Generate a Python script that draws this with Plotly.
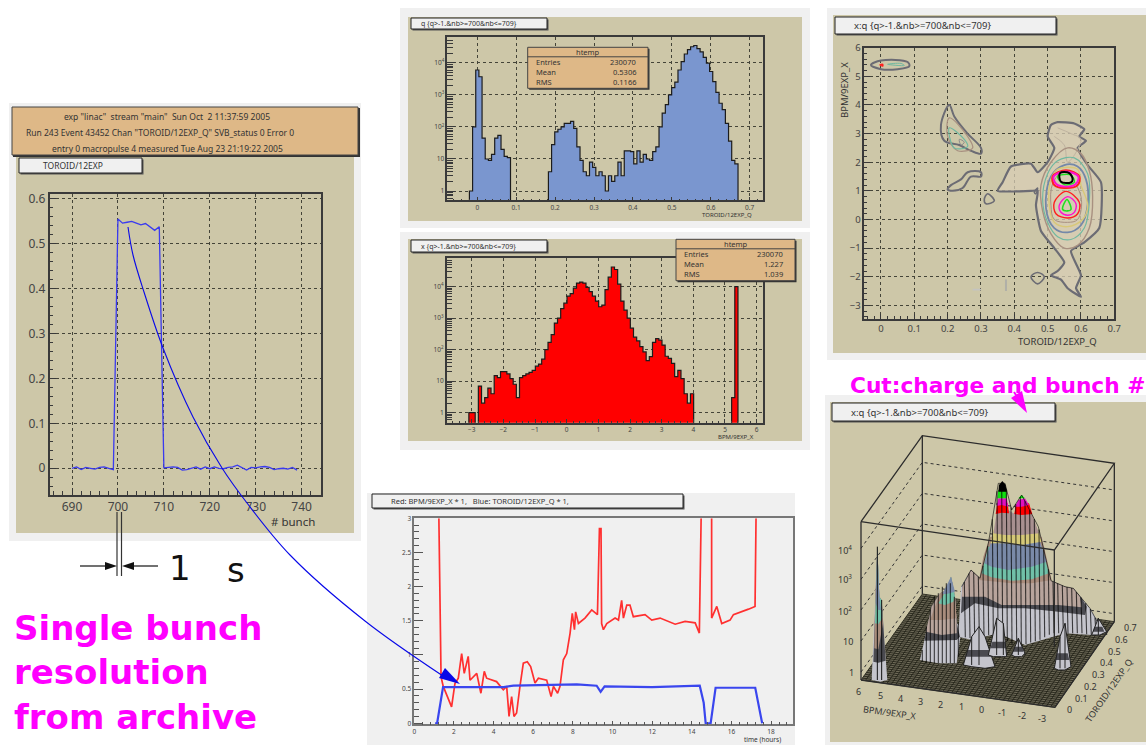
import numpy as np
import plotly.graph_objects as go

W, H = 1146, 745
TAN = "#cdc7a8"; LIGHT = "#f0f0f0"; ORANGE = "#deb887"; DARK = "#3a3a3a"; GRID = "#444438"
FONT = "Noto Sans"

# ---------- data: single-shot trace ----------
bunch = list(range(690, 740))
charge = [0,.003,-.003,.002,0,-.002,.002,.003,0,-.003,.555,.546,.548,.55,.546,.542,.545,.537,.53,.538,
          .001,.002,.003,.002,-.004,-.003,0,.003,-.002,.003,-.001,.003,0,-.001,.002,.003,.007,.002,-.004,.002,
          .001,.003,.004,.002,-.003,-.001,0,-.002,.002,-.004]

# ---------- data: charge histogram (100 bins) ----------
q_range = (-0.077, 0.735)
q_counts = [0]*7 + [1,100,6000,3700,45,10,9,14,45,55,20,12,11] + [0]*12 + [
    4,28,70,85,100,130,130,150,90,24,9,4,3,8,5.5,3,4,3,1,3,2,3,8,3,18,18,17,7,18,8,14,10,9,17,24,
    100,270,500,1000,1700,2500,6000,11000,19000,26000,32000,35000,28000,22000,15000,9800,5400,2600,1200,550,350,130,36,9,7] + [0]*8

# ---------- data: position histogram (100 bins) ----------
x_range = (-3.79, 6.21)
x_counts = [0]*7 + [1,1,0,7,2,3,6,4,15,13,20,20,17,12,8,3,13,15,17,19,22,30,35,50,100,170,300,700,1000,2000,
    3000,5000,6000,9000,13000,14000,13000,9500,7000,5000,3500,2300,2600,8000,20000,42000,35000,12000,3500,1800,1000,
    480,250,190,125,85,45,60,170,225,200,140,62,53,37,14,22,12,4,2,4] + [0]*12 + [3,10000] + [0]*8

# ---------- data: strip chart ----------
red_t1 = [1.24,1.3,1.35,1.46,1.72,1.88,2.05,2.22,2.39,2.52,2.64,2.72,2.81,3.15,3.36,3.53,3.65,4.15,4.49,4.66,4.78,4.91,5.03,5.16,5.33,5.5,5.7,5.87,6.09,6.26,6.68,6.9,7.02,7.23,7.35,7.52,7.69,7.86,7.97,8.08,8.14,8.28,8.61,8.95,9.24,9.34,9.42,9.45,9.54,9.71,10.13,10.3,10.46,10.55,10.72,10.88,11.05,11.64,11.98,12.4,13.16,13.66,14.17,14.38,14.47]
red_v1 = [3,1.95,.68,.54,.34,.24,.58,.66,1.02,.73,.88,.98,.63,.73,.44,.76,.66,.61,.49,.54,.1,.39,.1,.15,.54,.88,.9,.83,.59,.66,.63,.39,.54,.44,.54,.93,1.02,1.32,1.61,1.37,1.63,1.46,1.54,1.66,1.59,2.85,2.85,1.46,1.37,1.46,1.54,1.51,1.8,1.54,1.73,1.73,1.56,1.59,1.51,1.54,1.45,1.49,1.47,1.32,3]
red_t2 = [15.0,15.0,15.26,15.51,15.93,16.1,16.86,17.19,17.24]
red_v2 = [3,1.54,1.71,1.46,1.51,1.59,1.67,1.71,3]
blue_t = [1.05,1.15,1.45,4.5,5.0,7.5,8.2,9.2,9.4,9.6,12,14.4,14.6,14.7,14.95,15.2,17.2,17.55]
blue_v = [0,0,.53,.53,.55,.56,.57,.55,.46,.54,.53,.55,.3,0,0,.52,.52,0]

# ---------- data: contours (x = charge, y = position) ----------
GREY_D, BRN, TEAL, BLUE, YEL, RED, MAG, GRN = "#6c6c74", "#a89080", "#70b8a0", "#7488a8", "#d8c878", "#ff2020", "#ff10d0", "#20e020"
contours = [
 ("#d9d0b8", 1.6, [.51,.53,.58,.61,.595,.615,.59,.62,.66,.655,.61,.57,.60,.585,.60,.56,.54,.51,.53,.55,.52,.48,.465,.47,.45,.35,.365,.39,.45,.47,.5,.52,.50,.51],
                  [3.3,3.4,3.35,3.15,2.9,2.75,2.5,1.9,1.3,-.3,-.8,-1.1,-1.95,-2.4,-2.7,-2.4,-2.1,-1.95,-1.8,-1.5,-1.0,-.4,.5,1.0,1.0,1.0,1.3,1.85,1.95,1.65,2.0,2.5,2.9,3.3]),
 ("#bfb3a0", 1, [.53,.57,.60,.56,.55,.52], [3.2,3.0,2.8,2.0,2.6,2.9]),
 (BRN, 1.4, [.51,.56,.60,.625,.635,.625,.59,.55,.51,.485,.48,.51], [2.0,2.5,2.3,1.7,.8,-.3,-.9,-1.0,-.5,.3,1.2,2.0]),
 (TEAL, 1.2, [.50,.53,.58,.62,.625,.61,.57,.53,.50,.485,.50], [1.6,2.05,2.15,1.6,.6,-.3,-.7,-.6,-.1,.7,1.6]),
 (BLUE, 1.8, [.51,.55,.59,.615,.62,.60,.56,.52,.495,.51], [1.5,1.9,1.85,1.4,.5,-.2,-.45,-.3,.4,1.5]),
 (YEL, 1.4, [.51,.53,.59,.60,.62,.605,.56,.52,.505,.51], [1.4,1.75,1.75,1.2,.5,0,-.25,-.1,.5,1.4]),
 (BRN, 1, [.515,.55,.60,.59,.56,.52,.51,.515], [1.25,1.7,.8,0,-.1,0,.5,1.25]),
 (RED, 1.4, [.52,.555,.595,.59,.56,.525,.52], [.6,.98,.6,.2,.05,.2,.6]),
 (MAG, 1.4, [.535,.56,.585,.58,.56,.54,.535], [.5,.8,.55,.25,.15,.25,.5]),
 (GRN, 1.6, [.545,.558,.57,.56,.545], [.35,.7,.35,.3,.35]),
 (RED, 2, [.515,.555,.595,.59,.55,.52,.515], [1.5,1.72,1.5,1.2,1.1,1.2,1.5]),
 (MAG, 2, [.518,.555,.592,.585,.55,.525,.518], [1.5,1.68,1.5,1.25,1.15,1.25,1.5]),
 (GRN, 1.4, [.53,.57,.58,.55,.53], [1.5,1.55,1.3,1.22,1.5]),
 ("#000000", 2, [.537,.565,.575,.57,.54,.537], [1.62,1.62,1.4,1.3,1.32,1.62]),
 (GREY_D, 2, [.205,.22,.26,.30,.30,.27,.235,.19,.18,.205], [4.0,3.6,3.0,2.5,2.3,2.4,2.6,2.75,3.3,4.0]),
 (BRN, 1.2, [.205,.26,.275,.23,.20,.205], [3.55,2.9,2.5,2.4,2.9,3.55]),
 (TEAL, 1.2, [.205,.25,.26,.22,.205], [3.2,2.8,2.55,2.5,3.2]),
 ("#8c8c8c", 1, [.235,.25,.24,.235], [2.8,2.7,2.6,2.8]),
 (GREY_D, 2, [.20,.21,.24,.26,.30,.30,.27,.245,.215,.20], [1.05,1.2,1.4,1.65,1.65,1.5,1.5,1.1,1.0,1.05]),
 (GREY_D, 2, [-.03,0,.08,.085,.05,0,-.03], [5.4,5.55,5.5,5.35,5.25,5.25,5.4]),
 (TEAL, 1, [.02,.06,.07,.02], [5.42,5.45,5.38,5.42]),
 (RED, 1.5, [-.003,.005,.005,-.003], [5.4,5.42,5.36,5.4]),
 (GREY_D, 1.6, [.31,.32,.34,.315,.31], [.7,.9,.65,.55,.7]),
 (GREY_D, 1.6, [.45,.47,.49,.47,.45], [-2.0,-1.85,-2.0,-2.25,-2.0]),
 ("#c4c4c0", 1.6, [.275,.30,.275], [-2.45,-2.45,-2.45]),
 ("#b0b0a8", 2, [.375,.375], [-2.1,-2.5]),
 (GREY_D, 1.6, [.46,.47,.465,.46], [.95,1.1,.9,.95]),
]

# ---------- data: 3-D view, picture coordinates of the drawn surface ----------
main_levels = [
 ("#c4c4cc", [400,408,438,465,480,660,678,720,745,770,795,835,800,720,600,520,440], [800,650,600,625,560,560,632,650,655,685,715,780,795,790,825,790,810]),
 ("#4a4a50", [408,412,438,465,480,660,678,720,745,770,785,780,700,600,520,450], [730,650,600,625,560,560,632,650,655,685,710,735,725,715,715,700]),
 ("#b8a49c", [410,412,438,465,480,660,678,720,745,765,770,700,600,530,480], [680,650,600,625,560,560,632,650,655,680,712,705,705,705,680]),
 ("#a88c7c", [462,475,495,650,680,620,560,500], [630,560,500,500,630,640,640,635]),
 ("#70c0a8", [470,490,650,672,620,560,500], [610,530,530,610,628,632,622]),
 ("#7a8aa8", [478,497,645,665,620,550,500], [580,520,515,575,590,600,590]),
 ("#d4c878", [497,505,630,650,590,540], [520,480,460,515,525,520]),
 ("#a89090", [505,515,550,565,620,642,590,540], [490,430,420,430,430,490,495,495]),
 ("#ff0000", [512,517,548,552,530], [432,400,400,430,428]),
 ("#ff0000", [568,572,612,622,590], [432,405,400,432,435]),
 ("#e010c0", [515,520,545,550,530], [408,385,385,410,405]),
 ("#e010c0", [570,580,600,612,590], [410,390,385,405,410]),
 ("#10e010", [517,520,545,545], [385,360,360,385]),
 ("#10e010", [580,590,600], [385,375,385]),
 ("#000000", [520,522,532,542,545], [365,345,333,345,365]),
]
left_levels = [
 ("#c4c4cc", [285,300,320,345,365,378,390,395,410,395,340], [870,800,710,670,660,620,680,760,770,880,880]),
 ("#4a4a50", [298,320,345,365,378,390,395,405,395,340], [812,710,670,660,620,680,760,800,810,812]),
 ("#b8a49c", [303,320,345,365,378,390,395,395,350], [785,710,670,660,620,680,760,790,795]),
 ("#a88c7c", [315,345,365,378,390,395,350], [750,670,660,620,680,745,750]),
 ("#70c0a8", [340,365,378,390,385,360], [700,660,620,680,695,705]),
 ("#7a8aa8", [352,378,390,365], [672,620,665,672]),
]
spike_levels = [
 ("#c4c4cc", [140,150,157,163,170,176,187,165], [930,700,530,680,690,780,930,935]),
 ("#4a4a50", [145,150,157,163,170,176,182,160], [875,700,530,680,690,780,872,878]),
 ("#a88c7c", [148,150,157,163,170,174,160], [835,700,530,680,690,760,838]),
 ("#70c0a8", [150,157,163,170,172,160], [760,530,680,690,745,762]),
 ("#7a8aa8", [152,157,163,168,160], [700,530,680,720,720]),
]
small_hills = [
 ([415,440,462,480,510,480,440], [885,800,770,800,890,895,890]),
 ([490,515,535,545,530,505], [855,745,760,860,860,860]),
 ([560,580,600,590,570], [855,805,850,860,860]),
 ([688,705,720,738,720,700], [895,800,760,890,900,900]),
 ([800,820,845,825], [795,745,785,795]),
]
small_bands = [
 ([428,494,502,420], [840,840,860,860]),
 ([502,540,543,496], [815,815,835,835]),
 ([568,592,595,564], [830,830,845,845]),
 ([695,728,733,691], [850,850,870,870]),
 ([808,832,838,804], [770,770,785,785]),
]
ridge_x = [410,438,465,490,520,540,560,590,640,678,720,745,770,795,830]
ridge_top = [650,600,625,520,340,340,420,375,470,632,650,655,685,715,780]
ridge_base = [800,805,800,795,790,810,825,825,810,790,790,790,790,795,790]
mesh_x = [418,432,446,460,474,488,502,516,530,544,558,572,586,600,614,628,642,656,670,684,698,712,726,740,754,768,782,796,810]
left_mesh_x = [292,304,316,328,340,352,364,376,388,400]
left_top = [840,770,720,680,670,650,640,640,680,760]
left_base = [875,880,880,880,880,880,880,880,880,860]

fig = go.Figure()
shapes, annots = [], []

def px(x): return x / W
def py(y): return 1 - y / H

def rect(x0, y0, x1, y1, fill, line=None, lw=0, layer="below"):
    shapes.append(dict(type="rect", xref="paper", yref="paper", x0=px(x0), x1=px(x1), y0=py(y0), y1=py(y1),
                       fillcolor=fill, line=dict(color=line or fill, width=lw), layer=layer))

def label(x, y, t, size=8, color="#333333", anchor="center", angle=0, fam=FONT, v="middle"):
    annots.append(dict(xref="paper", yref="paper", x=px(x), y=py(y), text=t, showarrow=False, xanchor=anchor, yanchor=v,
                       font=dict(size=size, color=color, family=fam), textangle=angle))

def titlebox(x0, y0, x1, y1, t, size=8, tx=None):
    rect(x0 + 1.5, y0 + 1.5, x1 + 1.5, y1 + 1.5, "#555555")
    rect(x0, y0, x1, y1, LIGHT, "#222222", 1)
    label(tx if tx else x0 + 8, (y0 + y1) / 2, t, size=size, anchor="left")

def setup(n, l, t, r, b, xr, yr, xopts=None, yopts=None, font=12):
    common = dict(showline=True, mirror=True, linecolor=DARK, linewidth=1.5, showgrid=True,
                  gridcolor=GRID, griddash="dot", gridwidth=1, zeroline=False, ticks="inside", tickcolor=DARK,
                  tickfont=dict(size=font, color="#444444", family=FONT), ticklen=7)
    xa = dict(common, domain=[px(l), px(r)], range=list(xr), anchor=f"y{n}", **(xopts or {}))
    ya = dict(common, domain=[py(b), py(t)], range=list(yr), anchor=f"x{n}", **(yopts or {}))
    fig.update_layout(**{f"xaxis{n}": xa, f"yaxis{n}": ya})

def line(n, xs, ys, color, width=1.2, shape="linear", **kw):
    fig.add_trace(go.Scatter(x=xs, y=ys, mode="lines", xaxis=f"x{n}", yaxis=f"y{n}",
                             line=dict(color=color, width=width, shape=shape), hoverinfo="skip", **kw))

def poly(n, xs, ys, color, smooth=False):
    fig.add_trace(go.Scatter(x=list(xs) + [xs[0]], y=list(ys) + [ys[0]], mode="lines", fill="toself", fillcolor=color,
                             xaxis=f"x{n}", yaxis=f"y{n}", line=dict(width=0, color=color), hoverinfo="skip"))

# ---------- panel 1: single shot ----------
rect(9, 103, 361, 541, LIGHT)
rect(16, 157, 354, 533, TAN)
rect(13, 108, 360, 157, "#333333")
rect(12, 107, 358, 155, ORANGE, "#444444", 1)
label(167, 116.5, 'exp "linac"  stream "main"  Sun Oct  2 11:37:59 2005', 8.5)
label(160, 132.5, 'Run 243 Event 43452 Chan "TOROID/12EXP_Q" SVB_status 0 Error 0', 8.5)
label(167, 149, 'entry 0 macropulse 4 measured Tue Aug 23 21:19:22 2005', 8.5)
titlebox(19, 158, 142, 173, "TOROID/12EXP", 8.5, tx=41)
setup(1, 49.5, 193.5, 320.5, 495, (685.1, 744.1), (-0.0595, 0.612),
      dict(tickvals=[690,700,710,720,730,740], minor=dict(ticks="inside", ticklen=4, dtick=2, tickcolor=DARK, showgrid=False)),
      dict(tickvals=[0,.1,.2,.3,.4,.5,.6], ticktext=["0","0.1","0.2","0.3","0.4","0.5","0.6"],
           minor=dict(ticks="inside", ticklen=4, dtick=.02, tickcolor=DARK, showgrid=False)))
line(1, bunch, charge, "#3a3af0", 1.3)
label(293, 521, "# bunch", 11.5)

# ---------- panel 2: charge histogram ----------
logvals = [1, 10, 100, 1000, 10000]
logtext = ["1", "10", "10<sup>2</sup>", "10<sup>3</sup>", "10<sup>4</sup>"]
logminor = [m * 10**d for d in range(0, 5) for m in range(2, 10)] + [.6, .7, .8, .9]
def hist(n, rng, counts, fill):
    edges = np.linspace(rng[0], rng[1], len(counts) + 1)
    ys = [c if c > 0 else 0.1 for c in counts]
    fig.add_trace(go.Scatter(x=edges, y=ys + [ys[-1]], mode="lines", fill="tozeroy", fillcolor=fill, xaxis=f"x{n}", yaxis=f"y{n}",
                             line=dict(color="#1c1c1c", width=1.2, shape="hv"), hoverinfo="skip"))
def statbox(x0, y0, x1, y1, mean, rms):
    rect(x0 + 1.5, y0 + 1.5, x1 + 1.5, y1 + 1.5, "#333333", layer="above")
    rect(x0, y0, x1, y1, ORANGE, "#444444", 1, layer="above")
    shapes.append(dict(type="line", xref="paper", yref="paper", x0=px(x0), x1=px(x1), y0=py(y0 + 9.5), y1=py(y0 + 9.5),
                       line=dict(color="#444444", width=1), layer="above"))
    label((x0 + x1) / 2, y0 + 5, "htemp", 7.5)
    for i, (k, v) in enumerate([("Entries", "230070"), ("Mean", mean), ("RMS", rms)]):
        label(x0 + 6, y0 + 15 + i * 10, k, 7.5, anchor="left")
        label(x1 - 10, y0 + 15 + i * 10, v, 7.5, anchor="right")

rect(400, 8, 810, 228, LIGHT)
rect(408, 17, 802, 221, TAN)
titlebox(411, 18, 547, 29, "q {q&gt;-1.&amp;nb&gt;=700&amp;nb&lt;=709}", 7, tx=419)
setup(2, 447.3, 37.3, 763.3, 200.3, q_range, (-0.29, 4.80),
      dict(tickvals=[0,.1,.2,.3,.4,.5,.6,.7], ticktext=["0","0.1","0.2","0.3","0.4","0.5","0.6","0.7"], ticklen=4,
           minor=dict(ticks="inside", ticklen=2, dtick=.02, tickcolor=DARK, showgrid=False)),
      dict(type="log", tickvals=logvals, ticktext=logtext, ticklen=8,
           minor=dict(ticks="inside", ticklen=6, tickvals=logminor, tickcolor=DARK, showgrid=False)), font=6.5)
hist(2, q_range, q_counts, "#7a96cf")
statbox(527.7, 47.3, 648, 88.3, "0.5306", "0.1166")
label(727, 215, "TOROID/12EXP_Q", 6)

# ---------- panel 3: position histogram ----------
rect(400, 232, 810, 450, LIGHT)
rect(408, 239, 802, 441, TAN)
titlebox(411, 240, 547, 252, "x {q&gt;-1.&amp;nb&gt;=700&amp;nb&lt;=709}", 7, tx=419)
setup(3, 446.7, 258.3, 763.3, 422.7, x_range, (-0.317, 4.9),
      dict(tickvals=list(range(-3, 7)), ticklen=4, minor=dict(ticks="inside", ticklen=2, dtick=.2, tickcolor=DARK, showgrid=False)),
      dict(type="log", tickvals=logvals, ticktext=logtext, ticklen=8,
           minor=dict(ticks="inside", ticklen=6, tickvals=logminor, tickcolor=DARK, showgrid=False)), font=6.5)
hist(3, x_range, x_counts, "#ff0000")
statbox(676, 239.3, 795, 280.7, "1.227", "1.039")
label(736, 437, "BPM/9EXP_X", 6)

# ---------- panel 4: contour map ----------
rect(827, 8, 1146, 360, LIGHT)
rect(833, 15, 1146, 353, TAN)
titlebox(835, 17, 1056, 34, "x:q {q&gt;-1.&amp;nb&gt;=700&amp;nb&lt;=709}", 9.5, tx=852)
setup(4, 864.3, 47.7, 1114.3, 319, (-0.05, 0.7), (-3.476, 6),
      dict(tickvals=[0,.1,.2,.3,.4,.5,.6,.7], ticktext=["0","0.1","0.2","0.3","0.4","0.5","0.6","0.7"], ticklen=5,
           minor=dict(ticks="inside", ticklen=3, dtick=.02, tickcolor=DARK, showgrid=False)),
      dict(tickvals=list(range(-3, 7)), ticklen=6, minor=dict(ticks="inside", ticklen=3, dtick=.2, tickcolor=DARK, showgrid=False)), font=9.5)
for col, lw, cx, cy in contours[:1]:
    fig.add_trace(go.Scatter(x=cx, y=cy, mode="lines", fill="toself", fillcolor="rgba(216,206,182,.75)", xaxis="x4", yaxis="y4",
                             line=dict(color=GREY_D, width=2.2, shape="spline", smoothing=0.5), hoverinfo="skip"))
for col, lw, cx, cy in contours[1:]:
    line(4, cx, cy, col, lw, "spline")
label(1057, 342, "TOROID/12EXP_Q", 9.5)
label(844, 90, "BPM/9EXP_X", 9.5, angle=-90)

# ---------- panel 5: 3-D view ----------
rect(825, 395, 1146, 745, LIGHT)
rect(830, 402, 1146, 742, TAN)
titlebox(832, 403, 1055, 421, "x:q {q&gt;-1.&amp;nb&gt;=700&amp;nb&lt;=709}", 9.5, tx=849)
fig.update_layout(xaxis7=dict(domain=[px(825), 1], range=[0, 963], visible=False, anchor="y7"),
                  yaxis7=dict(domain=[py(745), py(370)], range=[1125, 0], visible=False, anchor="x7"))
FL, FR, BR, BL = (108, 930), (690, 1012), (868, 755), (292, 672)
poly(7, [FL[0], FR[0], BR[0], BL[0]], [FL[1], FR[1], BR[1], BL[1]], "#6e6a58")
for t in np.linspace(0, 1, 46):
    line(7, [FL[0]+(BL[0]-FL[0])*t, FR[0]+(BR[0]-FR[0])*t], [FL[1]+(BL[1]-FL[1])*t, FR[1]+(BR[1]-FR[1])*t], "#1e1e14", .8)
for t in np.linspace(0, 1, 46):
    line(7, [FL[0]+(FR[0]-FL[0])*t, BL[0]+(BR[0]-BL[0])*t], [FL[1]+(FR[1]-FL[1])*t, BL[1]+(BR[1]-BL[1])*t], "#1e1e14", .8)
for y in [277, 370, 462, 555, 648]:
    fig.add_trace(go.Scatter(x=[108, 292, 868], y=[y + 258, y, y + 83], mode="lines", xaxis="x7", yaxis="y7",
                             line=dict(color="#333333", width=1, dash="dot"), hoverinfo="skip"))
for c, xs, ys in main_levels:
    poly(7, xs, ys, c)
for mx in mesh_x:
    line(7, [mx, mx + 3], [np.interp(mx, ridge_x, ridge_top), np.interp(mx, ridge_x, ridge_base)], "rgba(0,0,0,.7)", 1.1)
line(7, ridge_x, ridge_top, "rgba(0,0,0,.6)", 1)
for c, xs, ys in left_levels:
    poly(7, xs, ys, c)
for mx, a, b in zip(left_mesh_x, left_top, left_base):
    line(7, [mx, mx], [a, b], "rgba(0,0,0,.7)", 1.1)
for c, xs, ys in spike_levels:
    poly(7, xs, ys, c)
line(7, [157, 157], [530, 930], "#111111", 1)
line(7, [170, 170], [690, 930], "#111111", 1)
for (xs, ys), (bx, by) in zip(small_hills, small_bands):
    poly(7, xs, ys, "#c4c4cc")
    poly(7, bx, by, "#4a4a50")
    line(7, xs + [xs[0]], ys + [ys[0]], "#222222", 1)
    line(7, [xs[1], xs[1]], [ys[1], ys[0]], "#222222", 1)
    line(7, [xs[2], xs[2]], [ys[2], ys[0]], "#222222", 1)
tl, tr, tbr, tbl = (108, 455), (688, 540), (868, 280), (292, 197)
line(7, [tl[0], tr[0], tbr[0], tbl[0], tl[0]], [tl[1], tr[1], tbr[1], tbl[1], tl[1]], "#2c2c2c", 1.3)
line(7, [tl[0], FL[0]], [tl[1], FL[1]], "#2c2c2c", 1.3)
line(7, [tr[0], tr[0]], [tr[1], 830], "#2c2c2c", 1.3)
line(7, [tbr[0], BR[0]], [tbr[1], BR[1]], "#2c2c2c", 1.3)
line(7, [tbl[0], BL[0]], [tbl[1], BL[1]], "#2c2c2c", 1.3)
line(7, [FL[0], FR[0], BR[0]], [FL[1], FR[1], BR[1]], "#2c2c2c", 1.3)
def z(x, y): return 825 + x / 3, 370 + y / 3
for t, a, b, ang in [("10<sup>4</sup>", 60, 540, 0), ("10<sup>3</sup>", 60, 628, 0), ("10<sup>2</sup>", 60, 722, 0), ("10", 68, 815, 0), ("1", 78, 908, 0),
                     ("6",100,965,0),("5",165,975,0),("4",225,985,0),("3",285,993,0),("2",347,1002,0),("1",410,1010,0),("0",468,1018,0),("-1",530,1027,0),("-2",592,1037,0),("-3",652,1045,0),
                     ("0",733,1018,0),("0.1",768,985,0),("0.2",797,948,0),("0.3",820,912,0),("0.4",845,878,0),("0.5",868,843,0),("0.6",890,808,0),("0.7",915,772,0),
                     ("BPM/9EXP_X",195,1028,8),("TOROID/12EXP_Q",850,960,-55)]:
    label(*z(a, b), t, 9, angle=ang)

# ---------- panel 6: strip chart ----------
rect(367, 493, 795, 745, LIGHT)
titlebox(372, 494, 683, 508, "Red: BPM/9EXP_X * 1,   Blue: TOROID/12EXP_Q * 1,", 7.5, tx=389)
setup(6, 414.3, 518.3, 792.7, 724.3, (0, 19.09), (-0.015, 3),
      dict(tickvals=list(range(0, 20, 2)), ticklen=4, showgrid=False, linecolor="#777777", tickcolor="#555555",
           minor=dict(ticks="inside", ticklen=3, dtick=.4, tickcolor="#555555", showgrid=False)),
      dict(tickvals=[0,.5,1,1.5,2,2.5,3], ticktext=["0","0.5","1","1.5","2","2.5","3"], ticklen=9, showgrid=False, linecolor="#777777", tickcolor="#555555",
           minor=dict(ticks="inside", ticklen=5, dtick=.1, tickcolor="#555555", showgrid=False)), font=6.5)
line(6, red_t1, red_v1, "#ff3030", 1.7)
line(6, red_t2, red_v2, "#ff3030", 1.7)
line(6, blue_t, blue_v, "#3a46ee", 2.2)
label(762, 739, "time (hours)", 6.5)

# ---------- annotations overlay ----------
fig.update_layout(xaxis9=dict(domain=[0, 1], range=[0, W], visible=False, anchor="y9"),
                  yaxis9=dict(domain=[0, 1], range=[H, 0], visible=False, anchor="x9"))
arrow_x = [128,133,144,163,193,222,247,290,365,443]
arrow_y = [227,255,292,348,417,468,503,555,621,676]
line(9, arrow_x, arrow_y, "#0808e8", 1.1, "spline")
poly(9, [445, 460, 439], [668, 684, 678], "#0808e8")
line(9, [117, 117], [512, 576], "#333333", 1.2)
line(9, [121.5, 121.5], [512, 576], "#333333", 1.2)
line(9, [80, 106], [566, 566], "#111111", 1.2)
poly(9, [117, 105, 105], [566, 562, 570], "#111111")
line(9, [158, 133], [566, 566], "#111111", 1.2)
poly(9, [122, 134, 134], [566, 562, 570], "#111111")
poly(9, [1011, 1022, 1027], [398, 391, 413], "#ff00ff")
line(9, [1014, 1018], [392, 398], "#ff00ff", 2)

label(180, 568, "1", 34, "#111111", fam="DejaVu Sans")
label(236, 570, "s", 34, "#111111", fam="DejaVu Sans")
MAGENTA = "#ff00ff"
label(12, 628, "<b>Single bunch</b>", 34, MAGENTA, anchor="left", fam="DejaVu Sans")
label(12, 672, "<b>resolution</b>", 34, MAGENTA, anchor="left", fam="DejaVu Sans")
label(12, 717, "<b>from archive</b>", 34, MAGENTA, anchor="left", fam="DejaVu Sans")
label(848, 385, "<b>Cut:charge and bunch #</b>", 21.7, MAGENTA, anchor="left", fam="DejaVu Sans")

fig.update_layout(width=W, height=H, margin=dict(l=0, r=0, t=0, b=0, autoexpand=False), autosize=False, showlegend=False,
                  paper_bgcolor="white", plot_bgcolor="rgba(0,0,0,0)", shapes=shapes, annotations=annots)
fig.write_html("out.html", config=dict(displayModeBar=False),
               post_script="document.body.style.margin='0';document.body.style.overflow='hidden';")
